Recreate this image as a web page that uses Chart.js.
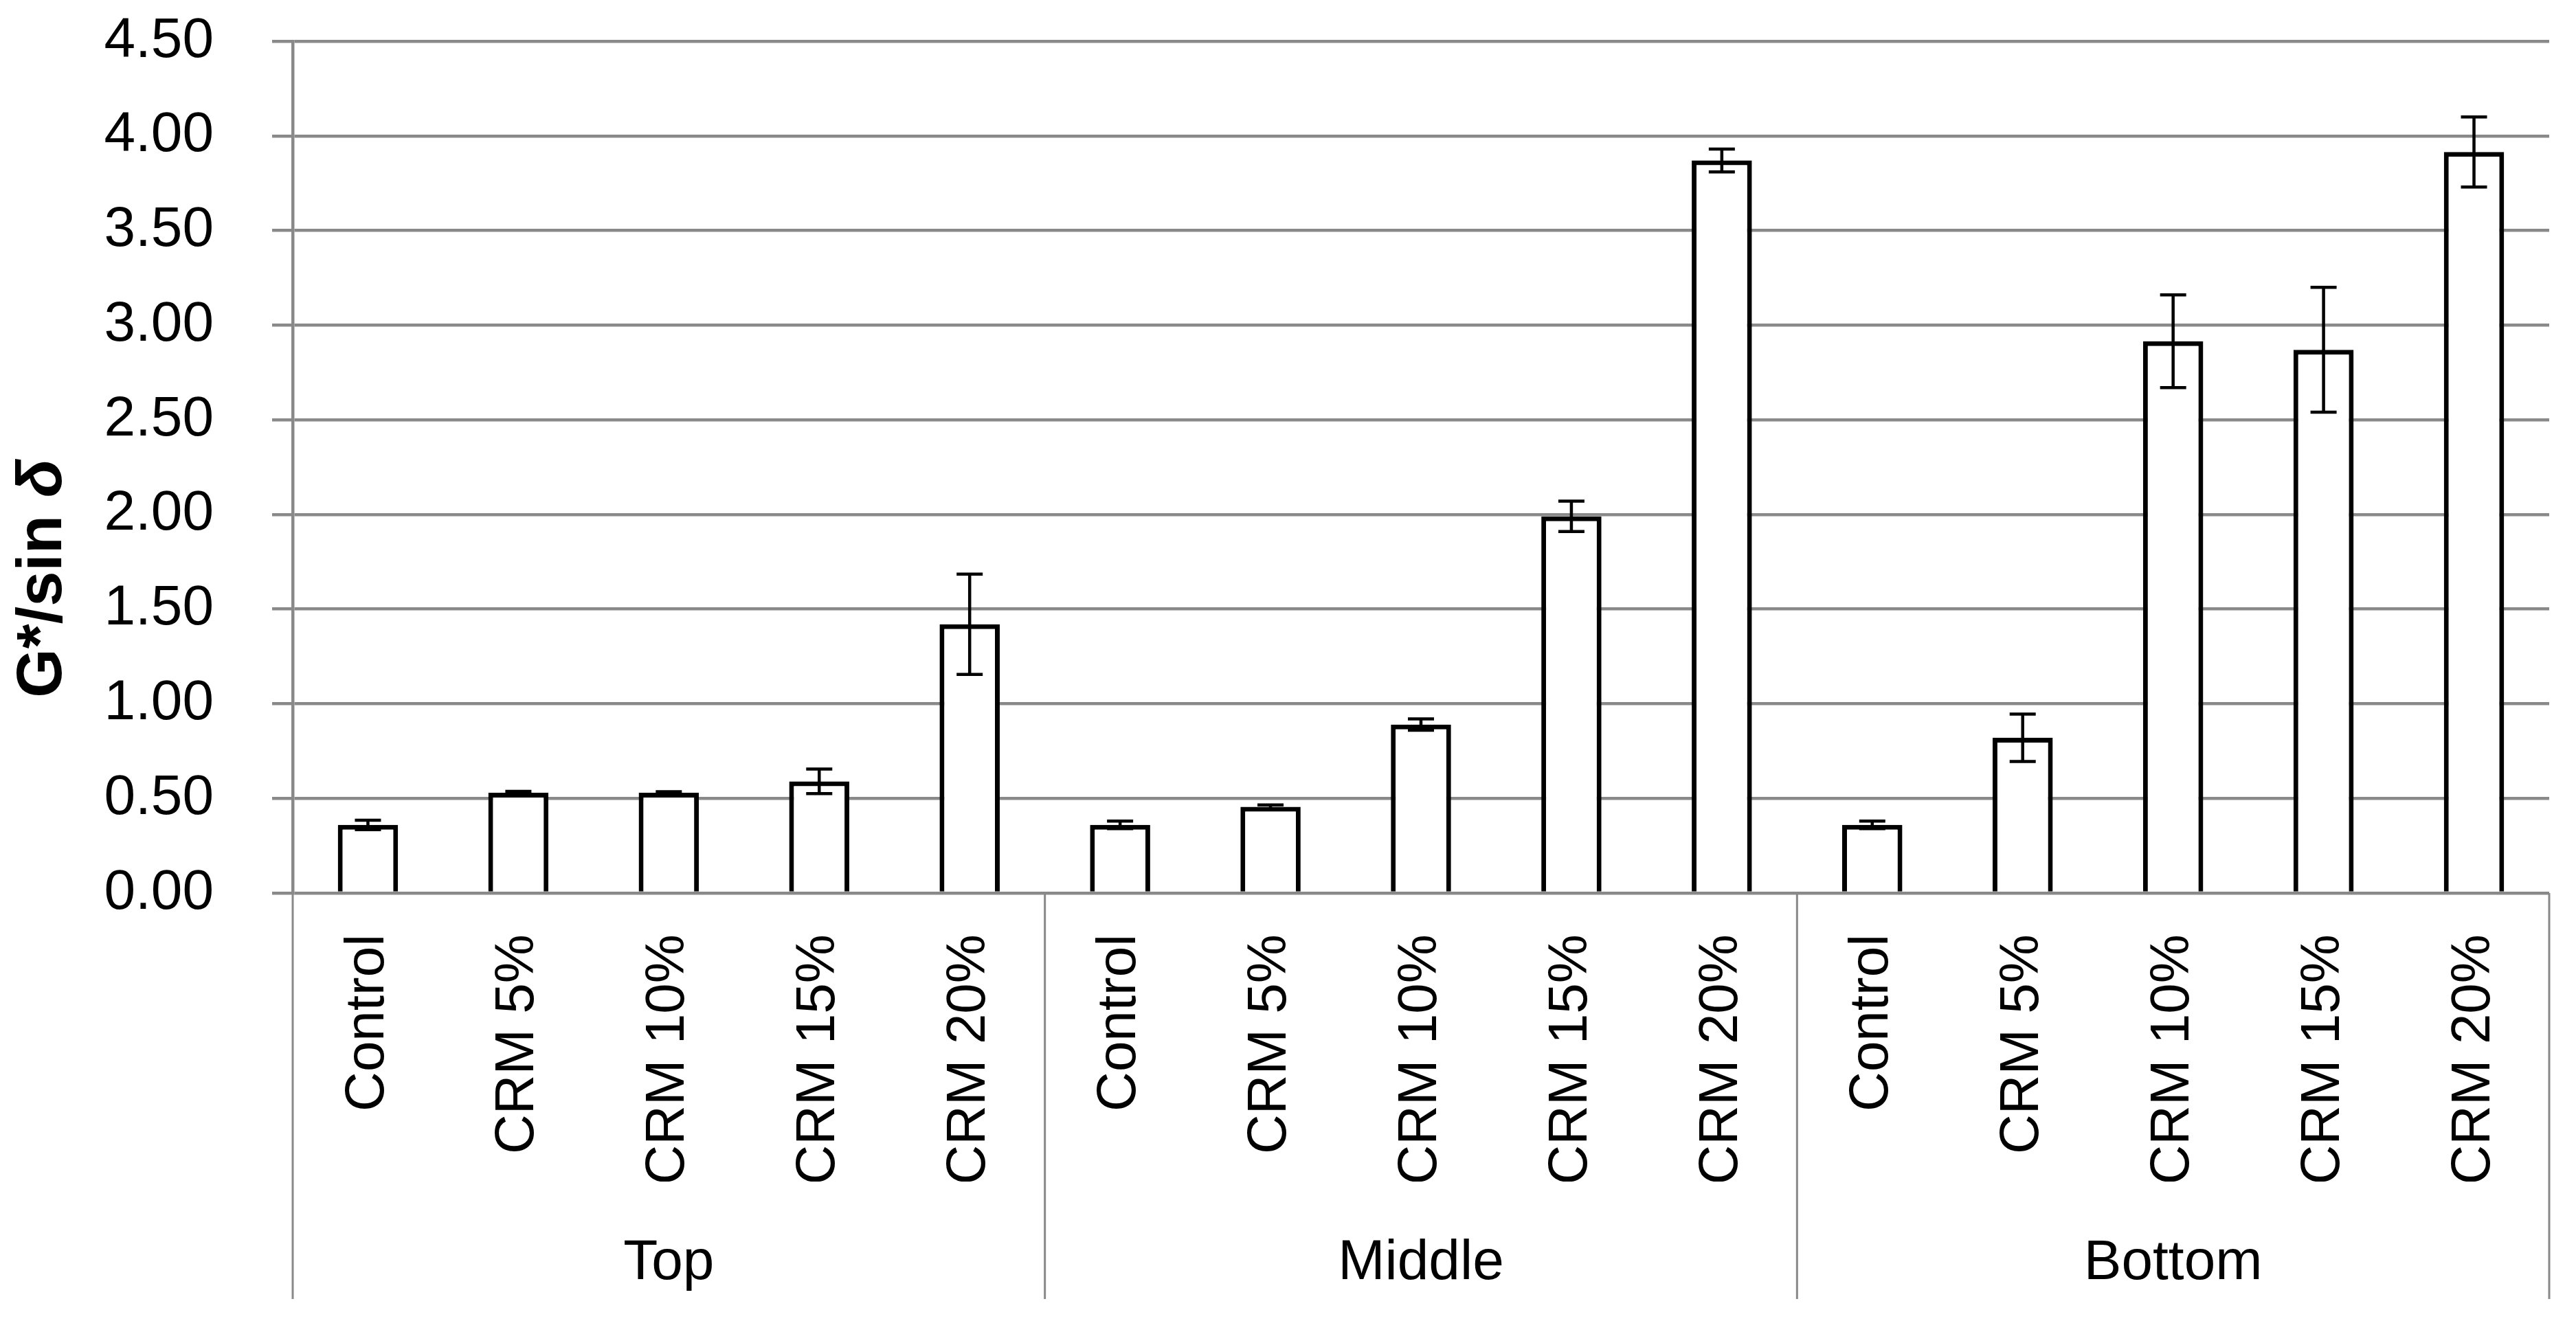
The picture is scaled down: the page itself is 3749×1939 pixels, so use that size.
<!DOCTYPE html>
<html>
<head>
<meta charset="utf-8">
<script src="https://cdn.jsdelivr.net/npm/chart.js@4.4.1/dist/chart.umd.min.js"></script>
<style>
  html, body { margin: 0; padding: 0; background: #fff; }
  #wrap { width: 3749px; height: 1939px; }
</style>
</head>
<body>
<div id="wrap"><canvas id="chart"></canvas></div>
<script>
// groups and mixes along the x axis
const groups = ['Top', 'Middle', 'Bottom'];
const mixes = ['Control', 'CRM 5%', 'CRM 10%', 'CRM 15%', 'CRM 20%'];

// G*/sin δ per mix, one array per layer
const topValues = [0.36, 0.53, 0.53, 0.59, 1.42];
const middleValues = [0.36, 0.455, 0.89, 1.99, 3.87];
const bottomValues = [0.36, 0.82, 2.915, 2.87, 3.915];

// error bar half-lengths
const topErrors = [0.025, 0.007, 0.005, 0.065, 0.265];
const middleErrors = [0.02, 0.01, 0.03, 0.08, 0.06];
const bottomErrors = [0.02, 0.125, 0.245, 0.33, 0.185];

const yTicks = [0, 0.5, 1, 1.5, 2, 2.5, 3, 3.5, 4, 4.5];

const labels = groups.flatMap(() => mixes);
const values = [...topValues, ...middleValues, ...bottomValues];
const errors = [...topErrors, ...middleErrors, ...bottomErrors];

const gridGray = '#898989';
const family = '"Liberation Sans", Arial, sans-serif';
Chart.defaults.font.family = family;
Chart.defaults.color = '#000';

// error bars with caps
const errorBars = {
    id: 'errorBars',
    afterDatasetsDraw(chart) {
        const { ctx, scales: { y } } = chart;
        const meta = chart.getDatasetMeta(0);
        ctx.save();
        ctx.strokeStyle = '#000';
        ctx.lineWidth = 4.5;
        meta.data.forEach((bar, i) => {
            const yt = y.getPixelForValue(values[i] + errors[i]);
            const yb = y.getPixelForValue(values[i] - errors[i]);
            ctx.beginPath();
            ctx.moveTo(bar.x, yt); ctx.lineTo(bar.x, yb);
            ctx.moveTo(bar.x - 19, yt); ctx.lineTo(bar.x + 19, yt);
            ctx.moveTo(bar.x - 19, yb); ctx.lineTo(bar.x + 19, yb);
            ctx.stroke();
        });
        ctx.restore();
    }
};

// vertical separators between the groups, through the label area
const groupLines = {
    id: 'groupLines',
    afterDraw(chart) {
        const { ctx, chartArea, scales: { x } } = chart;
        const step = x.getPixelForValue(1) - x.getPixelForValue(0);
        ctx.save();
        ctx.strokeStyle = gridGray;
        ctx.lineWidth = 3;
        for (let g = 0; g <= groups.length; g++) {
            const px = x.getPixelForValue(g * mixes.length) - step / 2;
            ctx.beginPath();
            ctx.moveTo(px, chartArea.bottom);
            ctx.lineTo(px, chart.height - 48);
            ctx.stroke();
        }
        ctx.restore();
    }
};

// y axis title with italic delta
const yTitle = {
    id: 'yTitle',
    afterDraw(chart) {
        const ctx = chart.ctx;
        const a = 'G*/sin ', b = 'δ';
        ctx.save();
        ctx.translate(64, 842);
        ctx.rotate(-Math.PI / 2);
        ctx.fillStyle = '#000';
        ctx.textBaseline = 'middle';
        ctx.textAlign = 'left';
        ctx.font = 'bold 92px ' + family;
        const wa = ctx.measureText(a).width;
        ctx.font = 'italic bold 92px ' + family;
        const wb = ctx.measureText(b).width;
        const x0 = -(wa + wb) / 2;
        ctx.font = 'bold 92px ' + family;
        ctx.fillText(a, x0, 0);
        ctx.font = 'italic bold 92px ' + family;
        ctx.fillText(b, x0 + wa, 0);
        ctx.restore();
    }
};

const ctx = document.getElementById('chart').getContext('2d');

new Chart(ctx, {
    type: 'bar',
    data: {
        labels: labels,
        datasets: [{
            data: values,
            backgroundColor: '#fff',
            borderColor: '#000',
            borderWidth: 7,
            barPercentage: 0.4,
            categoryPercentage: 1
        }]
    },
    options: {
        responsive: true,
        maintainAspectRatio: false,
        animation: false,
        layout: { padding: { left: 0, right: 39, top: 60, bottom: 0 } },
        plugins: {
            legend: { display: false },
            tooltip: { enabled: false }
        },
        scales: {
            x: {
                grid: { display: false, drawTicks: false },
                border: { display: false },
                ticks: {
                    autoSkip: false,
                    maxRotation: 90,
                    minRotation: 90,
                    padding: 60,
                    font: { size: 80 }
                },
                afterFit(s) { s.height = 420; s.paddingLeft = 0; s.paddingRight = 0; }
            },
            group: {
                type: 'category',
                labels: groups,
                position: 'bottom',
                offset: true,
                grid: { display: false, drawTicks: false },
                border: { display: false },
                ticks: { padding: 70, font: { size: 82 } },
                afterFit(s) { s.height = 219; s.paddingLeft = 0; s.paddingRight = 0; }
            },
            y: {
                min: 0,
                max: 4.5,
                afterBuildTicks(s) { s.ticks = yTicks.map(v => ({ value: v })); },
                ticks: {
                    padding: 85,
                    font: { size: 82 },
                    callback: v => v.toFixed(2)
                },
                grid: { color: gridGray, lineWidth: 4.5, tickLength: 30 },
                border: { color: gridGray, width: 4.5 },
                afterFit(s) { s.width = 426; s.paddingTop = 0; s.paddingBottom = 0; }
            }
        }
    },
    plugins: [errorBars, groupLines, yTitle]
});
</script>
</body>
</html>
